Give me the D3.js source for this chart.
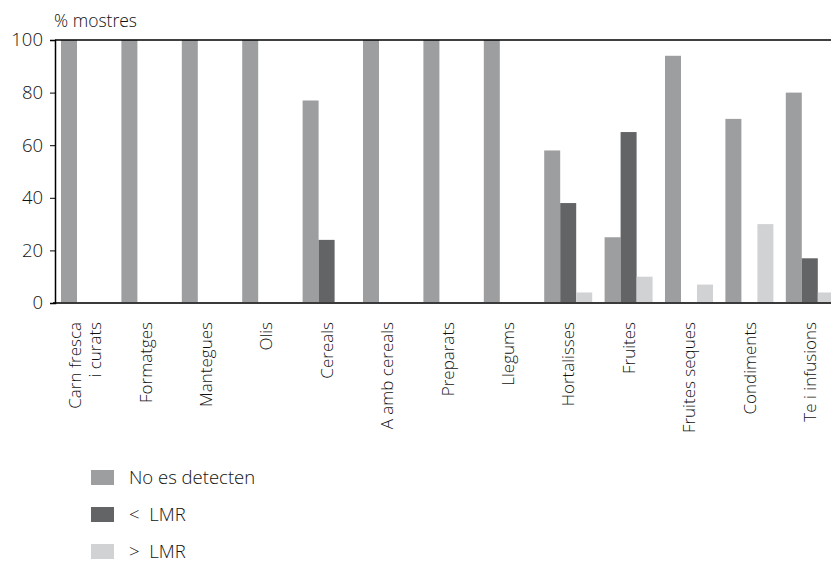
<!DOCTYPE html>
<html><head><meta charset="utf-8">
<script src="https://cdn.jsdelivr.net/npm/d3@7"></script>
<style>body{margin:0;background:#fff}svg{display:block;font-family:"Open Sans",sans-serif;font-weight:300}</style>
</head><body><svg id="c" width="831" height="562"></svg>
<script>
const categories = [["Carn fresca","i curats"],["Formatges"],["Mantegues"],["Olis"],["Cereals"],["A amb cereals"],["Preparats"],["Llegums"],["Hortalisses"],["Fruites"],["Fruites seques"],["Condiments"],["Te i infusions"]];
const seriesNames = ["No es detecten","<  LMR",">  LMR"];
const noDetect = [100,100,100,100,77,100,100,100,58,25,94,70,80];
const belowLMR = [0,0,0,0,24,0,0,0,38,65,0,0,17];
const aboveLMR = [0,0,0,0,0,0,0,0,4,10,7,30,4];
const yTicks = [0,20,40,60,80,100];
const colors = ["#9d9ea0","#636466","#d1d2d4"];

const svg = d3.select("#c");
const x0 = 55, yTop = 40, yBot = 303, band = 60.4;
const x = d3.scaleBand().domain(d3.range(categories.length)).range([x0, x0 + band*categories.length]).paddingInner(0).paddingOuter(0);
const xs = d3.scaleBand().domain(d3.range(3)).range([6, 54]);
const y = d3.scaleLinear().domain([0,100]).range([yBot, yTop]);
const series = [noDetect, belowLMR, aboveLMR];

series.forEach((vals, si) => {
  svg.append("g").selectAll("rect").data(vals).join("rect")
    .attr("x", (d,i) => x(i) + xs(si))
    .attr("width", xs.bandwidth())
    .attr("y", d => y(d))
    .attr("height", d => yBot - y(d))
    .attr("fill", colors[si]);
});

svg.append("line").attr("x1", x0).attr("x2", 831).attr("y1", y(100)).attr("y2", y(100)).attr("stroke","#000").attr("stroke-width",1.5);
svg.append("line").attr("x1", x0-2).attr("x2", 831).attr("y1", yBot).attr("y2", yBot).attr("stroke","#3a3a3a").attr("stroke-width",1.8);

const ya = svg.append("g").attr("transform", `translate(${x0},0)`)
  .call(d3.axisLeft(y).tickValues(yTicks).tickSize(5).tickPadding(7));
ya.select(".domain").attr("stroke","#000").attr("stroke-width",1.5);
ya.selectAll(".tick line").attr("stroke","#000");
ya.selectAll("text").attr("font-size",18.5).attr("fill","#111").attr("font-family","'Open Sans',sans-serif").attr("font-weight",300);

svg.append("text").attr("x", 54).attr("y", 27).attr("font-size",17.5).attr("fill","#111").text("% mostres");

categories.forEach((lines, i) => {
  const cx = x(i) + band/2;
  const n = lines.length;
  lines.forEach((t, li) => {
    const off = (li - (n-1)/2) * 20;
    svg.append("text")
      .attr("transform", `translate(${cx + off + 6},322) rotate(-90)`)
      .attr("text-anchor","end").attr("font-size",17).attr("fill","#111").text(t);
  });
});

const lg = svg.append("g");
seriesNames.forEach((nm, i) => {
  const yy = 470 + i*37;
  lg.append("rect").attr("x",91).attr("y",yy).attr("width",23).attr("height",15).attr("fill",colors[i]);
  lg.append("text").attr("x",129).attr("y",yy+14).attr("font-size",18.5).attr("fill","#111").attr("xml:space","preserve").style("white-space","pre").text(nm);
});
</script></body></html>
